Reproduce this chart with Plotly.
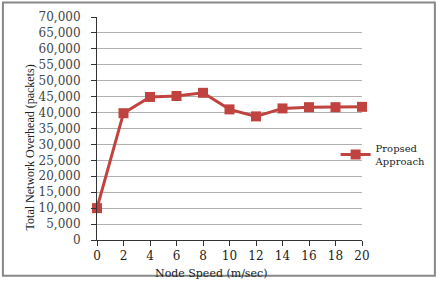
import plotly.graph_objects as go

speeds = [0, 2, 4, 6, 8, 10, 12, 14, 16, 18, 20]
overhead = [10000, 39800, 44900, 45200, 46200, 41000, 38800, 41300, 41700, 41700, 41800]
series_name = "Propsed<br>Approach"
y_ticks = list(range(0, 70001, 5000))
y_tick_labels = [f"{v:,}" for v in y_ticks]
x_title = "Node Speed (m/sec)"
y_title = "Total Network Overhead (packets)"

red = "#C0433F"
fig = go.Figure()
fig.add_trace(go.Scatter(
    x=speeds, y=overhead, mode="lines+markers", name=series_name,
    line=dict(color=red, width=3),
    marker=dict(symbol="square", size=10, color=red),
    cliponaxis=False,
))

fig.update_layout(
    width=437, height=281,
    margin=dict(l=97, r=75, t=17, b=41, autoexpand=False),
    paper_bgcolor="white", plot_bgcolor="white",
    showlegend=True,
    legend=dict(xref="container", yref="container", x=0.768, y=0.45,
                xanchor="left", yanchor="middle",
                font=dict(family="DejaVu Serif", size=10, color="#222"),
                bgcolor="rgba(0,0,0,0)", itemwidth=30),
    xaxis=dict(range=[0, 20], tickvals=speeds, showgrid=False,
               showline=True, linecolor="#333", linewidth=1,
               ticks="outside", ticklen=5, tickcolor="#333",
               ticklabelstandoff=0, automargin=False,
               tickfont=dict(family="DejaVu Serif", size=12, color="#222"),
               zeroline=False),
    yaxis=dict(range=[0, 70000], tickvals=y_ticks, ticktext=y_tick_labels,
               showgrid=True, gridcolor="#B0B0B0", gridwidth=1,
               showline=True, linecolor="#333", linewidth=1,
               ticks="outside", ticklen=5, tickcolor="#333",
               ticklabelstandoff=8, automargin=False,
               tickfont=dict(family="DejaVu Serif", size=12, color="#444"),
               zeroline=False),
    annotations=[
        dict(text=x_title, xref="paper", yref="paper", x=0.43, y=-0.15,
             xanchor="center", yanchor="middle", showarrow=False,
             font=dict(family="DejaVu Serif", size=11, color="#222")),
        dict(text=y_title, xref="paper", yref="paper", x=-0.253, y=0.415,
             xanchor="center", yanchor="middle", showarrow=False, textangle=-90,
             font=dict(family="Liberation Serif", size=12, color="#222")),
    ],
    shapes=[dict(type="rect", xref="paper", yref="paper",
                 x0=-0.355, x1=1.275, y0=-0.16, y1=1.065,
                 line=dict(color="#888", width=2))],
)

fig.write_html("out.html", config={"displayModeBar": False},
               post_script="document.body.style.margin='0';")
